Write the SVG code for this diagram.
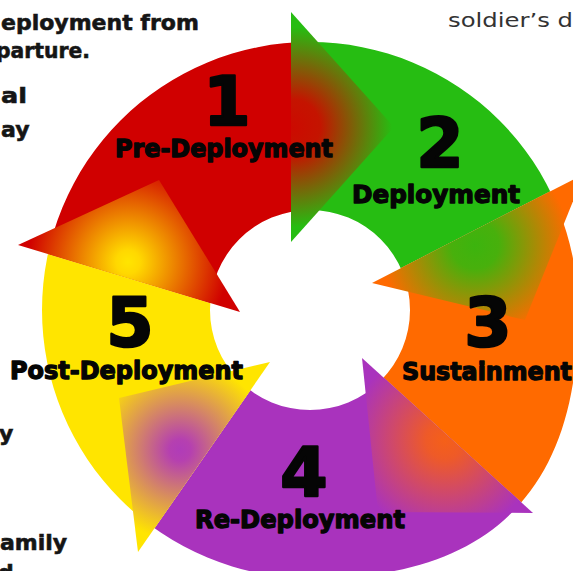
<svg xmlns="http://www.w3.org/2000/svg" width="573" height="571" viewBox="0 0 573 571">
  <defs>
    <style>
      .num { font-family: "DejaVu Sans", "Liberation Sans", sans-serif; font-weight: bold; font-size: 68px; fill: #050505; stroke: #050505; stroke-width: 2.5; stroke-linejoin: round; text-anchor: middle; }
      .lbl { font-family: "DejaVu Sans", "Liberation Sans", sans-serif; font-weight: bold; font-size: 24px; fill: #050505; stroke: #050505; stroke-width: 1.3; stroke-linejoin: round; }
      .side { font-family: "DejaVu Sans", "Liberation Sans", sans-serif; font-weight: bold; font-size: 22px; fill: #151515; stroke: #151515; stroke-width: 0.6; }
      .note { font-family: "DejaVu Sans", "Liberation Sans", sans-serif; font-size: 20px; fill: #333333; }
    </style>
    <clipPath id="ringClip">
      <path clip-rule="evenodd" d="M310,42 A268,268 0 0 1 578,310 C580,490 490,580 310,578 A268,268 0 0 1 42,310 A268,268 0 0 1 310,42 Z M410,310 A100,100 0 1 0 210,310 A100,100 0 1 0 410,310 Z"/>
    </clipPath>
    <radialGradient id="g1" gradientUnits="userSpaceOnUse" cx="292" cy="127" r="100">
      <stop offset="0" stop-color="#cc0a00"/>
      <stop offset="0.28" stop-color="#c41400"/>
      <stop offset="1" stop-color="#26bd12"/>
    </radialGradient>
    <radialGradient id="g2" gradientUnits="userSpaceOnUse" cx="475" cy="245" r="95">
      <stop offset="0" stop-color="#3cb40e"/>
      <stop offset="0.25" stop-color="#48b00c"/>
      <stop offset="1" stop-color="#ff6a00"/>
    </radialGradient>
    <radialGradient id="g3" gradientUnits="userSpaceOnUse" cx="445" cy="440" r="95">
      <stop offset="0" stop-color="#f56018"/>
      <stop offset="0.2" stop-color="#ee5a28"/>
      <stop offset="1" stop-color="#a933bd"/>
    </radialGradient>
    <radialGradient id="g4" gradientUnits="userSpaceOnUse" cx="180" cy="450" r="90">
      <stop offset="0" stop-color="#b03cb8"/>
      <stop offset="0.12" stop-color="#b540b0"/>
      <stop offset="1" stop-color="#ffe500"/>
    </radialGradient>
    <radialGradient id="g5" gradientUnits="userSpaceOnUse" cx="128" cy="262" r="100">
      <stop offset="0" stop-color="#ffe500"/>
      <stop offset="0.12" stop-color="#ffd800"/>
      <stop offset="1" stop-color="#d00000"/>
    </radialGradient>
  </defs>

  <rect width="573" height="571" fill="#ffffff"/>

  <!-- cut-off page text -->
  <g id="page-text">
    <text class="side" x="1" y="30">eployment from</text>
    <text class="side" x="-4" y="58" textLength="94" lengthAdjust="spacingAndGlyphs">parture.</text>
    <text class="side" x="1" y="103" textLength="26" lengthAdjust="spacingAndGlyphs">al</text>
    <text class="side" x="1" y="137">ay</text>
    <text class="side" x="-1" y="441">y</text>
    <text class="side" x="0" y="550">amily</text>
    <text class="side" x="-2" y="580">d</text>
    <text class="note" x="448" y="27" textLength="125" lengthAdjust="spacingAndGlyphs">soldier’s d</text>
  </g>

  <g clip-path="url(#ringClip)">
    <g id="node-1"><polygon points="310,310 240,312 -426,111 291,-448 291,242" fill="#d00000"/></g>
    <g id="node-2"><polygon points="310,310 291,242 291,-448 1008,-44 372,283" fill="#26bd12"/></g>
    <g id="node-3"><polygon points="310,310 372,283 1008,-44 875,823 362,358" fill="#ff6a00"/></g>
    <g id="node-4"><polygon points="310,310 362,358 875,823 -126,932 270,362" fill="#a933bd"/></g>
    <g id="node-5"><polygon points="310,310 270,362 -126,932 -426,111 240,312" fill="#ffe500"/></g>
  </g>

  <g id="connectors">
    <polygon id="arrow-1-2" points="291,12 394,127 291,242" fill="url(#g1)"/>
    <polygon id="arrow-2-3" points="584,174 525,320 372,283" fill="url(#g2)"/>
    <polygon id="arrow-3-4" points="533,513 378,512 362,358" fill="url(#g3)"/>
    <polygon id="arrow-4-5" points="138,552 119,398 270,362" fill="url(#g4)"/>
    <polygon id="arrow-5-1" points="18,245 159,180 240,312" fill="url(#g5)"/>
  </g>

  <g id="labels">
    <g id="label-1">
      <text class="num" x="227" y="125">1</text>
      <text class="lbl" x="115" y="157" textLength="218" lengthAdjust="spacingAndGlyphs">Pre-Deployment</text>
    </g>
    <g id="label-2">
      <text class="num" x="440" y="167">2</text>
      <text class="lbl" x="352" y="203" textLength="168" lengthAdjust="spacingAndGlyphs">Deployment</text>
    </g>
    <g id="label-3">
      <text class="num" x="488" y="346">3</text>
      <text class="lbl" x="402" y="380" textLength="170" lengthAdjust="spacingAndGlyphs">Sustainment</text>
    </g>
    <g id="label-4">
      <text class="num" x="304" y="496">4</text>
      <text class="lbl" x="195" y="528" textLength="210" lengthAdjust="spacingAndGlyphs">Re-Deployment</text>
    </g>
    <g id="label-5">
      <text class="num" x="130" y="346">5</text>
      <text class="lbl" x="10" y="379" textLength="233" lengthAdjust="spacingAndGlyphs">Post-Deployment</text>
    </g>
  </g>
</svg>
